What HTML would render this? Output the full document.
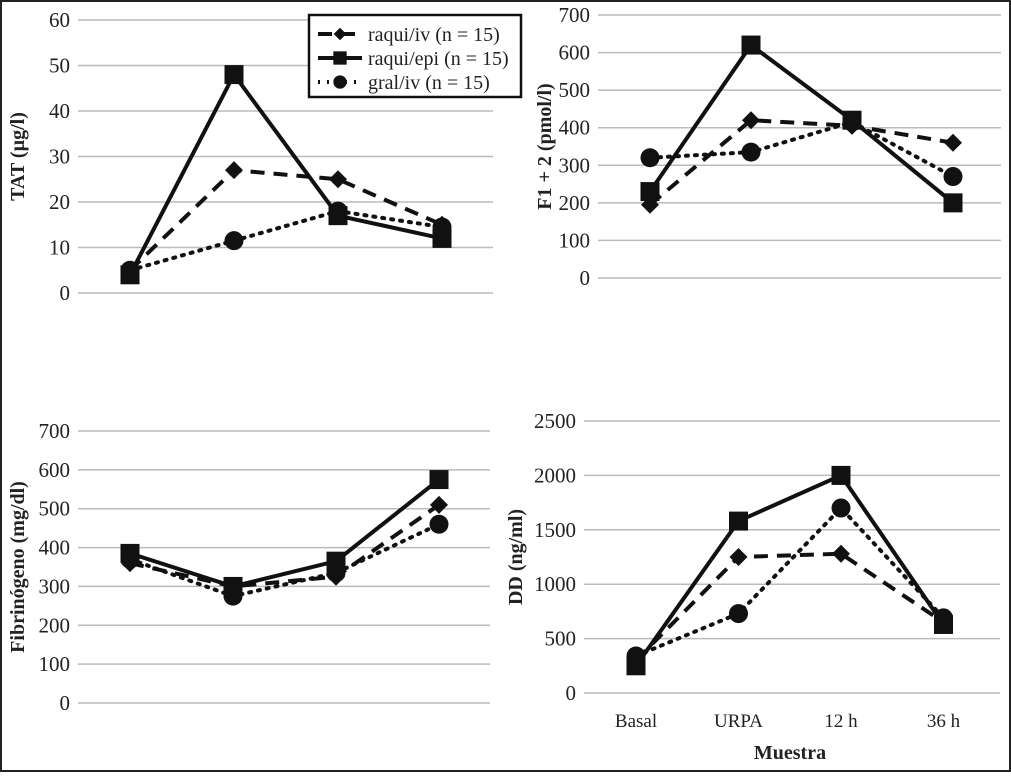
<!DOCTYPE html>
<html><head><meta charset="utf-8"><style>
html,body{margin:0;padding:0;background:#fff}
text{font-family:"Liberation Serif","Times New Roman",serif;fill:#222}
</style></head><body>
<svg width="1011" height="772" viewBox="0 0 1011 772" xmlns="http://www.w3.org/2000/svg" font-family="Liberation Serif, serif">
<rect x="1" y="1" width="1009" height="770" fill="#fff" stroke="#222" stroke-width="2"/>
<g id="root"></g>
</svg>
<script>
const categories = ["Basal","URPA","12 h","36 h"];
const seriesNames = ["raqui/iv (n = 15)","raqui/epi (n = 15)","gral/iv (n = 15)"];
const tatIv = [5, 27, 25, 15];
const tatEpi = [4, 48, 17, 12];
const tatGral = [5, 11.5, 18, 14.5];
const f12Iv = [195, 420, 405, 360];
const f12Epi = [230, 620, 420, 200];
const f12Gral = [320, 335, 415, 270];
const fibIv = [360, 300, 325, 510];
const fibEpi = [385, 300, 365, 575];
const fibGral = [370, 275, 335, 460];
const ddIv = [300, 1250, 1280, 650];
const ddEpi = [250, 1580, 2000, 630];
const ddGral = [340, 730, 1700, 690];
const tatTicks = [0,10,20,30,40,50,60];
const f12Ticks = [0,100,200,300,400,500,600,700];
const fibTicks = [0,100,200,300,400,500,600,700];
const ddTicks = [0,500,1000,1500,2000,2500];

const NS="http://www.w3.org/2000/svg";
const root=document.getElementById('root');
const FF='Liberation Serif, serif';
function mk(tag,attrs,parent){const e=document.createElementNS(NS,tag);for(const k in attrs)e.setAttribute(k,attrs[k]);if(tag==='text')e.setAttribute('font-family',FF);(parent||root).appendChild(e);return e;}
const dashes=["14,9","", "2,7"];
function marker(g,type,x,y){
  let m;
  if(type===0){m=mk('polygon',{points:`${x},${y-9} ${x+9},${y} ${x},${y+9} ${x-9},${y}`,fill:'#111'},g);}
  else if(type===1){m=mk('rect',{x:x-9.5,y:y-9.5,width:19,height:19,fill:'#111'},g);}
  else {m=mk('circle',{cx:x,cy:y,r:9.5,fill:'#111'},g);}
  return m;
}
function panel(cfg){
  const g=mk('g',{});
  
  
  const max=cfg.ticks[cfg.ticks.length-1];
  const ys=v=>cfg.y0+(cfg.yTop-cfg.y0)*v/max;
  const xs=i=>cfg.xFirst+i*cfg.xStep;
  cfg.ticks.forEach(t=>{
    const l=mk('line',{x1:cfg.x0,x2:cfg.x1,y1:ys(t),y2:ys(t),stroke:'#bbb','stroke-width':1.5},g);
    
    
    const tx=mk('text',{x:cfg.x0-8,y:ys(t)+7,'text-anchor':'end','font-size':21},g);
    tx.textContent=t;
    
    
  });
  const yl=mk('text',{transform:`translate(${cfg.titleX},${(cfg.y0+cfg.yTop)/2}) rotate(-90)`,'text-anchor':'middle','font-size':20,'font-weight':'bold'},g);
  yl.textContent=cfg.title;
  
  
  cfg.series.forEach((s,si)=>{
    const pts=s.map((v,i)=>xs(i)+','+ys(v)).join(' ');
    const pl=mk('polyline',{points:pts,fill:'none',stroke:'#111','stroke-width':4,'stroke-dasharray':dashes[si],'stroke-linecap':si===2?'round':'butt'},g);
    
    
    s.forEach((v,i)=>{
      const m=marker(g,si,xs(i),ys(v));
      
      
    });
  });
  if(cfg.xlabels){
    categories.forEach((c,i)=>{
      const t=mk('text',{x:xs(i),y:727,'text-anchor':'middle','font-size':19},g);
      t.textContent=c;
      
      
    });
    const t=mk('text',{x:790,y:759,'text-anchor':'middle','font-size':20,'font-weight':'bold'},g);
    t.textContent='Muestra';
    
    
  }
}
panel({name:'tat',ticks:tatTicks,y0:293,yTop:20,x0:78,x1:493,xFirst:130,xStep:104,title:'TAT (µg/l)',titleX:24,series:[tatIv,tatEpi,tatGral]});
panel({name:'f12',ticks:f12Ticks,y0:278,yTop:15,x0:598,x1:1001,xFirst:650,xStep:101,title:'F1 + 2 (pmol/l)',titleX:551,series:[f12Iv,f12Epi,f12Gral]});
panel({name:'fibrinogeno',ticks:fibTicks,y0:703,yTop:431,x0:78,x1:490,xFirst:130,xStep:103,title:'Fibrinógeno (mg/dl)',titleX:24,series:[fibIv,fibEpi,fibGral]});
panel({name:'dd',ticks:ddTicks,y0:693,yTop:421,x0:584,x1:1000,xFirst:636,xStep:102.5,title:'DD (ng/ml)',titleX:522,series:[ddIv,ddEpi,ddGral],xlabels:true});

const lg=mk('g',{});


mk('rect',{x:309,y:15,width:212,height:82,fill:'#fff',stroke:'#111','stroke-width':2.5},lg);
seriesNames.forEach((n,i)=>{
  const y=34+i*24;
  const e=mk('g',{},lg);
  
  
  mk('line',{x1:318,x2:362,y1:y,y2:y,stroke:'#111','stroke-width':4,'stroke-dasharray':dashes[i]},e);
  const m=marker(e,i,340,y);
  m.setAttribute('transform',`translate(${340*0.3},${y*0.3}) scale(0.7)`);
  const t=mk('text',{x:368,y:y+7,'font-size':20},e);
  t.textContent=n;
});
</script>
</body></html>
